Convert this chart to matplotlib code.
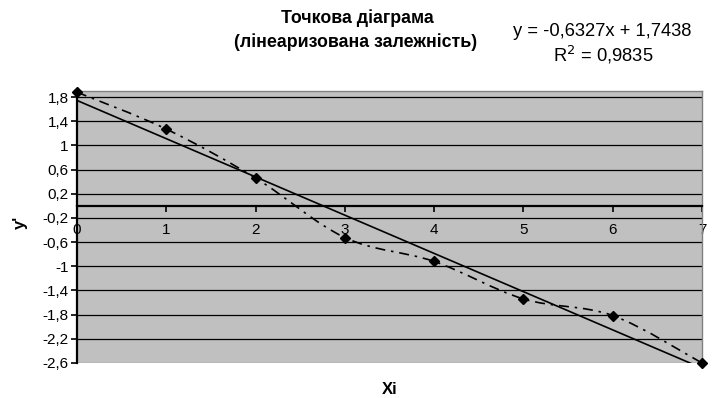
import numpy as np
import matplotlib
matplotlib.use("Agg")
import matplotlib.pyplot as plt
from matplotlib.path import Path
from matplotlib.patches import PathPatch
from matplotlib.ticker import FuncFormatter, FixedLocator

plt.rcParams['font.family'] = ['Liberation Sans', 'DejaVu Sans']

# ---- data ----
xi = [0, 1, 2, 3, 4, 5, 6, 7]
y_prime = [1.88, 1.27, 0.46, -0.525, -0.92, -1.54, -1.815, -2.60]
slope = -0.6327
intercept = 1.7438
r2 = 0.9835
x_ticks = [0, 1, 2, 3, 4, 5, 6, 7]
y_ticks = [1.8, 1.4, 1.0, 0.6, 0.2, -0.2, -0.6, -1.0, -1.4, -1.8, -2.2, -2.6]
title_lines = ["Точкова діаграма", "(лінеаризована залежність)"]
x_label = "Xi"
y_label = "y'"

W, H = 714, 398
fig = plt.figure(figsize=(W / 100, H / 100), dpi=100)
L, R, T, B = 77, 702, 91, 363
ax = fig.add_axes([L / W, 1 - B / H, (R - L) / W, (B - T) / H])
ax.set_facecolor('#C0C0C0')
ax.set_xlim(0, 7)
ax.set_ylim(-2.6, 1.9)

# gridlines
for v in y_ticks:
    col = '#808080' if v == min(y_ticks) else 'black'
    ax.axhline(v, color=col, lw=0.9, zorder=1)

# spines
ax.spines['top'].set_color('#808080')
ax.spines['right'].set_color('#808080')
ax.spines['top'].set_linewidth(1.0)
ax.spines['right'].set_linewidth(1.0)
ax.spines['left'].set_color('black')
ax.spines['left'].set_linewidth(1.6)
ax.spines['bottom'].set_position(('data', 0))
ax.spines['bottom'].set_color('black')
ax.spines['bottom'].set_linewidth(1.6)
ax.spines['bottom'].set_zorder(3)

fmt = FuncFormatter(lambda v, p: f"{round(v, 1):g}".replace('.', ','))
ax.yaxis.set_major_locator(FixedLocator(y_ticks))
ax.yaxis.set_major_formatter(fmt)
ax.xaxis.set_major_locator(FixedLocator(x_ticks))
ax.xaxis.set_major_formatter(fmt)
ax.tick_params(axis='y', direction='out', length=4, width=1.2, labelsize=11, pad=2)
ax.tick_params(axis='x', direction='out', length=4, width=1.2, labelsize=11, pad=8)

# trend line
xx = np.array([min(xi), max(xi)], dtype=float)
ax.plot(xx, slope * xx + intercept, color='black', lw=1.2, zorder=4)

# smoothed dash-dot series line (Bezier through the points)
px = np.array(xi, dtype=float)
py = np.array(y_prime, dtype=float)
verts = [(px[0], py[0])]
codes = [Path.MOVETO]
n = len(px)
for i in range(n - 1):
    p0 = np.array([px[max(i - 1, 0)], py[max(i - 1, 0)]])
    p1 = np.array([px[i], py[i]])
    p2 = np.array([px[i + 1], py[i + 1]])
    p3 = np.array([px[min(i + 2, n - 1)], py[min(i + 2, n - 1)]])
    c1 = p1 + (p2 - p0) / 6.0
    c2 = p2 - (p3 - p1) / 6.0
    verts += [tuple(c1), tuple(c2), tuple(p2)]
    codes += [Path.CURVE4, Path.CURVE4, Path.CURVE4]
patch = PathPatch(Path(verts, codes), facecolor='none', edgecolor='black',
                  lw=1.2, linestyle=(0, (6, 3.5, 1.5, 3.5)), zorder=5)
ax.add_patch(patch)

ax.plot(xi, y_prime, linestyle='none', marker='D', markersize=5.5,
        color='black', zorder=6, clip_on=False)

# texts
def fx(p):
    return p / W

def fy(p):
    return 1 - p / H

fig.text(fx(357), fy(18), title_lines[0], ha='center', va='center',
         fontsize=12.8, fontweight='bold')
fig.text(fx(356), fy(42), title_lines[1], ha='center', va='center',
         fontsize=12.8, fontweight='bold')
fig.text(fx(602), fy(31),
         f"y = {slope:.4f}x + {intercept:.4f}".replace('.', ','),
         ha='center', va='center', fontsize=13.2)
fig.text(fx(603), fy(55), f"R$^2$ = {r2:.4f}".replace('.', ','),
         ha='center', va='center', fontsize=13.2)
fig.text(fx(390), fy(389), x_label, ha='center', va='center',
         fontsize=12, fontweight='bold')
fig.text(fx(20), fy(222), y_label, ha='center', va='center',
         fontsize=12, fontweight='bold', rotation=90)

fig.savefig('out.png', dpi=100)
